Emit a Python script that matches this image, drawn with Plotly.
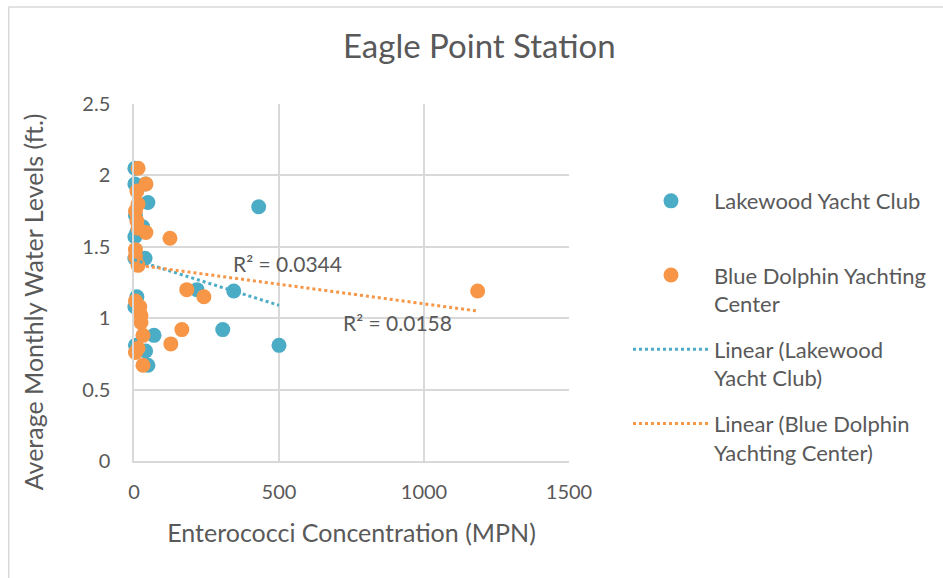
import plotly.graph_objects as go

# Lakewood Yacht Club (blue)
lake_x = [3, 3, 40, 48, 430, 5, 30, 10, 3, 38, 3, 217, 344, 10, 3, 306, 69, 500, 5, 40, 48]
lake_y = [2.05, 1.94, 1.94, 1.81, 1.78, 1.72, 1.64, 1.60, 1.57, 1.42, 1.42, 1.20, 1.19, 1.15, 1.08, 0.92, 0.88, 0.81, 0.81, 0.77, 0.67]

# Blue Dolphin Yachting Center (orange)
dolph_x = [14, 41, 10, 14, 5, 10, 41, 14, 124, 5, 5, 14, 182, 241, 1185, 5, 20, 24, 24, 165, 31, 127, 14, 5, 31]
dolph_y = [2.05, 1.94, 1.89, 1.80, 1.75, 1.68, 1.60, 1.63, 1.56, 1.48, 1.43, 1.37, 1.20, 1.15, 1.19, 1.12, 1.08, 1.02, 0.97, 0.92, 0.88, 0.82, 0.79, 0.76, 0.67]

# Linear trendlines (endpoints)
lake_trend_x = [0, 500]
lake_trend_y = [1.41, 1.09]
dolph_trend_x = [0, 1185]
dolph_trend_y = [1.375, 1.05]

r2_labels = ["R² = 0.0344", "R² = 0.0158"]

BLUE = "#4BACC6"
ORANGE = "#F79646"
TXT = "#595959"
GRID = "#D9D9D9"
FONT = "Lato"

fig = go.Figure()
fig.add_trace(go.Scatter(x=lake_x, y=lake_y, mode="markers", name="Lakewood Yacht Club<br> ",
                         legendgroup="a", cliponaxis=False,
                         marker=dict(color=BLUE, size=15)))
fig.add_trace(go.Scatter(x=dolph_x, y=dolph_y, mode="markers", name="Blue Dolphin Yachting<br>Center",
                         legendgroup="b", cliponaxis=False,
                         marker=dict(color=ORANGE, size=15)))
fig.add_trace(go.Scatter(x=lake_trend_x, y=lake_trend_y, mode="lines", name="Linear (Lakewood<br>Yacht Club)",
                         legendgroup="c",
                         line=dict(color=BLUE, width=3, dash="dot")))
fig.add_trace(go.Scatter(x=dolph_trend_x, y=dolph_trend_y, mode="lines", name="Linear (Blue Dolphin<br>Yachting Center)",
                         legendgroup="d",
                         line=dict(color=ORANGE, width=3, dash="dot")))

fig.add_annotation(x=530, y=1.385, xref="x", yref="y", text=r2_labels[0], showarrow=False,
                   font=dict(family=FONT, size=21, color=TXT))
fig.add_annotation(x=907, y=0.97, xref="x", yref="y", text=r2_labels[1], showarrow=False,
                   font=dict(family=FONT, size=21, color=TXT))
fig.add_annotation(x=-0.2317, y=0.445, xref="paper", yref="paper", text="Average Monthly Water Levels (ft.)",
                   textangle=-90, showarrow=False, xanchor="center", yanchor="middle",
                   font=dict(family=FONT, size=25, color=TXT))

fig.add_shape(type="rect", xref="paper", yref="paper", x0=-0.288, x1=2.5, y0=-1, y1=1.272,
              line=dict(color=GRID, width=1.5), fillcolor="rgba(0,0,0,0)", layer="below")

fig.update_layout(
    width=943, height=578,
    margin=dict(l=134, r=373, t=104, b=117),
    paper_bgcolor="white", plot_bgcolor="white",
    font=dict(family=FONT, color=TXT, size=20),
    title=dict(text="Eagle Point Station", x=0.794, xref="paper", xanchor="center",
               y=1 - 46 / 578, yanchor="middle", yref="container",
               font=dict(family=FONT, size=33, color=TXT)),
    xaxis=dict(range=[0, 1500], tickvals=[0, 500, 1000, 1500], showgrid=True, gridcolor=GRID,
               gridwidth=1.5, zeroline=False, showline=True, linecolor=GRID, linewidth=1.5,
               ticks="", tickfont=dict(size=20), ticklabelstandoff=12,
               title=dict(text="Enterococci Concentration (MPN)", font=dict(size=25), standoff=23)),
    yaxis=dict(range=[0, 2.5], tickvals=[0, 0.5, 1, 1.5, 2, 2.5], showgrid=True, gridcolor=GRID,
               gridwidth=1.5, zeroline=False, showline=True, linecolor=GRID, linewidth=1.5,
               ticks="", tickfont=dict(size=20), ticklabelstandoff=18),
    legend=dict(x=1.133, y=0.787, xanchor="left", yanchor="top", font=dict(size=22, color=TXT),
                itemwidth=76, tracegroupgap=14, valign="top"),
    showlegend=True,
)

fig.write_html("out.html", config={"displayModeBar": False},
               post_script="document.body.style.margin='0';")
